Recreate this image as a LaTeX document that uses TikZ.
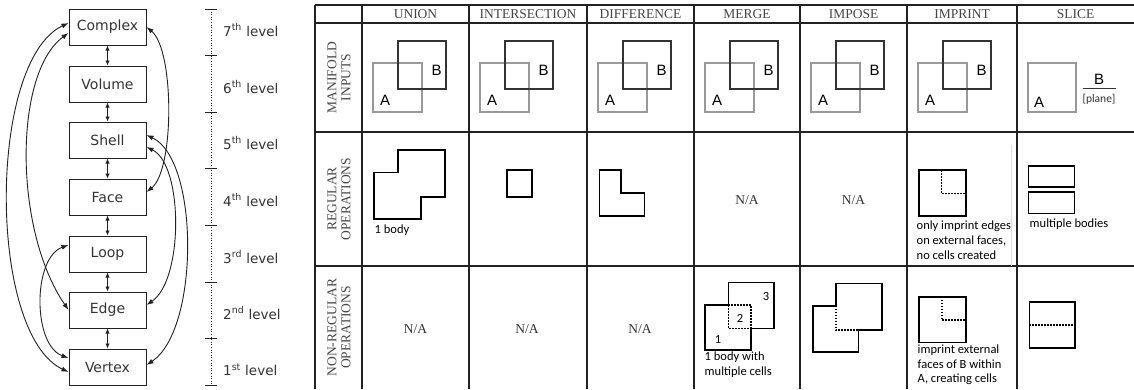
\documentclass[tikz,border=0pt]{standalone}
\usepackage{fontspec}
\setmainfont{Liberation Serif}
\newfontfamily\dvfont{DejaVu Sans}
\newfontfamily\cbfont{Carlito}
\newfontfamily\lsfont{Liberation Sans}
\usetikzlibrary{arrows.meta}
\definecolor{lineC}{HTML}{222222}
\definecolor{grayA}{HTML}{999999}
\definecolor{darkB}{HTML}{333333}
\definecolor{hdrC}{HTML}{444444}
\tikzset{
  lvlbox/.style={draw=lineC, line width=1pt, minimum width=77pt, minimum height=36pt, inner sep=0pt, font=\dvfont\fontsize{14}{16}\selectfont, text=darkB},
  dbl/.style={{Latex[length=7pt,width=5pt]}-{Latex[length=7pt,width=5pt]}, line width=0.9pt, draw=lineC},
  sdbl/.style={{Latex[length=5pt,width=4.5pt]}-{Latex[length=5pt,width=4.5pt]}, line width=0.9pt, draw=lineC},
  lvl/.style={anchor=west, inner sep=0pt, font=\dvfont\fontsize{13.5}{16}\selectfont, text=darkB},
  grid/.style={draw=lineC, line width=1.4pt},
  hdr/.style={inner sep=0pt, font=\fontsize{13.5}{14}\selectfont, text=hdrC},
  rowlbl/.style={inner sep=0pt, rotate=90, align=center, font=\fontsize{13.5}{14}\selectfont, text=hdrC},
  na/.style={inner sep=0pt, font=\fontsize{13.5}{14}\selectfont, text=darkB},
  sqA/.style={draw=grayA, line width=1.3pt},
  sqB/.style={draw=darkB, line width=1.6pt},
  ab/.style={inner sep=0pt, font=\lsfont\fontsize{15}{16}\selectfont, text=black},
  shp/.style={draw=black, line width=1.6pt},
  dots/.style={draw=black, line width=1.6pt, dash pattern=on 1.6pt off 1.4pt},
  note/.style={inner sep=0pt, align=left, font=\cbfont\fontsize{12.5}{14.8}\selectfont, text=black},
  num/.style={inner sep=0pt, font=\cbfont\fontsize{12.5}{14}\selectfont, text=black},
}
\begin{document}
\begin{tikzpicture}[x=1pt,y=-1pt]
\useasboundingbox (0,0) rectangle (1134,389);
% ---------- hierarchy ----------
\node[lvlbox] (cpx) at (107.5,27) {Complex};
\node[lvlbox] (vol) at (107.5,84) {Volume};
\node[lvlbox] (shl) at (107.5,140) {Shell};
\node[lvlbox] (fac) at (107.5,197) {Face};
\node[lvlbox] (lop) at (107.5,254) {Loop};
\node[lvlbox] (edg) at (107.5,310) {Edge};
\node[lvlbox] (vtx) at (107.5,367) {Vertex};
\draw[sdbl] (cpx.south) -- (vol.north);
\draw[sdbl] (vol.south) -- (shl.north);
\draw[sdbl] (shl.south) -- (fac.north);
\draw[sdbl] (fac.south) -- (lop.north);
\draw[sdbl] (lop.south) -- (edg.north);
\draw[sdbl] (edg.south) -- (vtx.north);
% left curves
\draw[dbl] ([yshift=4pt]cpx.west) .. controls +(-81,38) and +(-81,-38) .. ([yshift=-5pt]vtx.west);
\draw[dbl] ([yshift=-6pt]cpx.west) .. controls +(-55,40) and +(-55,-80) .. (edg.west);
\draw[dbl] ([yshift=9pt]lop.west) .. controls +(-36,13) and +(-36,-13) .. ([yshift=9pt]vtx.west);
% right curves
\draw[dbl] (cpx.east) .. controls +(28,23) and +(28,-22) .. ([yshift=5pt]fac.east);
\draw[dbl] ([yshift=5pt]shl.east) .. controls +(53,25) and +(53,-35) .. ([yshift=2pt]vtx.east);
\draw[dbl] ([yshift=-7pt]shl.east) .. controls +(37,18) and +(37,-25) .. ([yshift=5pt]edg.east);
% ---------- level scale ----------
\draw[lineC, line width=0.9pt, dash pattern=on 1pt off 1.6pt] (211,9) -- (211,385);
\foreach \yy in {9,55,112,168,225,282,338,385} \draw[lineC, line width=0.9pt] (205,\yy) -- (217,\yy);
\node[lvl] (l7) at (223,30) {7\textsuperscript{th} level};
\node[lvl] (l6) at (223,87) {6\textsuperscript{th} level};
\node[lvl] (l5) at (223,143) {5\textsuperscript{th} level};
\node[lvl] (l4) at (223,200) {4\textsuperscript{th} level};
\node[lvl] (l3) at (223,257) {3\textsuperscript{rd} level};
\node[lvl] (l2) at (223,313) {2\textsuperscript{nd} level};
\node[lvl] (l1) at (223,370) {1\textsuperscript{st} level};
% ---------- table grid ----------
\draw[grid] (315,5) -- (1134,5);
\draw[grid] (315,23) -- (1134,23);
\draw[grid] (315,132) -- (1134,132);
\draw[grid] (315,266) -- (1134,266);
\foreach \xx in {315,362,469,587,694,800,907,1017} \draw[grid] (\xx,5) -- (\xx,389);
% headers
\node[hdr] (hU) at (415.5,14) {UNION};
\node[hdr] (hI) at (528,14) {INTERSECTION};
\node[hdr] (hD) at (640.5,14) {DIFFERENCE};
\node[hdr] (hM) at (747,14) {MERGE};
\node[hdr] (hP) at (853.5,14) {IMPOSE};
\node[hdr] (hR) at (962,14) {IMPRINT};
\node[hdr] (hS) at (1075.5,14) {SLICE};
% row labels
\node[rowlbl] (r1) at (339,77.5) {MANIFOLD\\INPUTS};
\node[rowlbl] (r2) at (339,199) {REGULAR\\OPERATIONS};
\node[rowlbl] (r3) at (339,327.5) {NON-REGULAR\\OPERATIONS};
% ---------- row 1: manifold inputs ----------
\foreach \xl in {362,469,587,694,800,907} {
  \draw[sqA] (\xl+11,63) rectangle (\xl+60,112);
  \draw[sqB] (\xl+36,41) rectangle (\xl+84,89);
  \node[ab] (A\xl) at (\xl+23,100) {A};
  \node[ab] (B\xl) at (\xl+74.5,70) {B};
}
\draw[sqA] (1028,63) rectangle (1076,112);
\node[ab] (Aslice) at (1039,102) {A};
\node[ab] (Bslice) at (1099,79) {B};
\draw[darkB, line width=1.2pt] (1083,88.5) -- (1116,88.5);
\node[inner sep=0pt, font=\cbfont\fontsize{11.5}{12}\selectfont, text=darkB] (plane) at (1099,99) {[plane]};
% ---------- row 2: regular ----------
\draw[shp] (374,172.3) -- (397.7,172.3) -- (397.7,150) -- (445,150) -- (445,196.7) -- (421,196.7) -- (421,219) -- (374,219) -- cycle;
\node[note, anchor=west] (t1) at (374.5,230) {1 body};
\draw[shp] (506.7,170) rectangle (531.7,196.7);
\draw[shp] (599.3,170) -- (621,170) -- (621,192.7) -- (644.3,192.7) -- (644.3,215.7) -- (599.3,215.7) -- cycle;
\node[na] (naM) at (747,200) {N/A};
\node[na] (naP) at (853.5,200) {N/A};
\draw[shp] (919,170) rectangle (965.7,216);
\draw[dots] (941.5,170) -- (941.5,193.3) -- (965.7,193.3);
\node[note, anchor=north west] (t2) at (916.5,221) {only imprint edges\\on external faces,\\no cells created};
\draw[gray!25, line width=0.8pt] (1011.5,145) -- (1011.5,266);
\draw[shp] (1028.3,165.7) rectangle (1074.3,186.7);
\draw[shp] (1028.3,191.7) rectangle (1074.3,213.3);
\node[note, anchor=west] (t3) at (1029.5,224) {multiple bodies};
% ---------- row 3: non-regular ----------
\node[na] (na1) at (415.5,329.5) {N/A};
\node[na] (na2) at (527,329.5) {N/A};
\node[na] (na3) at (640,329.5) {N/A};
% merge
\draw[shp] (705,305) -- (728.3,305) -- (728.3,282.3) -- (774,282.3) -- (774,328.3) -- (751,328.3) -- (751,350) -- (705,350) -- cycle;
\draw[dots] (728.3,305) -- (728.3,328.3) -- (751,328.3);
\draw[dots] (728.3,305) -- (751,305) -- (751,328.3);
\node[num] (n1) at (718,339) {1};
\node[num] (n2) at (740,318) {2};
\node[num] (n3) at (766,296.5) {3};
\node[note, anchor=north west] (t4) at (704.5,352) {1 body with\\multiple cells};
% impose
\draw[shp] (812.7,305.7) -- (835.7,305.7) -- (835.7,283.3) -- (881.7,283.3) -- (881.7,330) -- (858.3,330) -- (858.3,351.7) -- (812.7,351.7) -- cycle;
\draw[dots] (835.7,305.7) -- (835.7,330) -- (858.3,330);
% imprint
\draw[shp] (919,296.7) rectangle (965.7,342.3);
\draw[dots] (941.7,296.7) -- (941.7,320) -- (965.7,320);
\node[note, anchor=north west] (t5) at (917.5,344.5) {imprint external\\faces of B within\\A, creating cells};
% slice
\draw[shp] (1029.3,301.7) rectangle (1075,347.7);
\draw[dots] (1029.3,325) -- (1075,325);
\end{tikzpicture}
\end{document}
